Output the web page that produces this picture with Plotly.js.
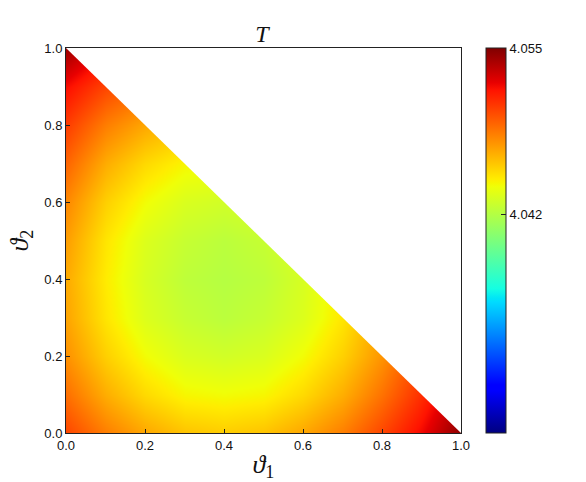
<!DOCTYPE html>
<html>
<head>
<meta charset="utf-8">
<script src="https://cdn.plot.ly/plotly-3.0.1.min.js"></script>
<style>
  body { margin: 0; background: #fff; }
  #plot { width: 586px; height: 482px; }
</style>
</head>
<body>
<div id="plot"></div>
<script>
// grid positions (theta_1 along x, theta_2 along y)
var theta1 = [0.0, 0.1, 0.2, 0.3, 0.4, 0.5, 0.6, 0.7, 0.8, 0.9, 1.0];
var theta2 = [0.0, 0.1, 0.2, 0.3, 0.4, 0.5, 0.6, 0.7, 0.8, 0.9, 1.0];

// T, one row per theta_2 value (only x+y<=1 is shown)
var T_y00 = [4.0501, 4.0483, 4.0470, 4.0461, 4.0458, 4.0461, 4.0470, 4.0483, 4.0501, 4.0521, 4.0547];
var T_y01 = [4.0488, 4.0468, 4.0454, 4.0445, 4.0443, 4.0445, 4.0454, 4.0468, 4.0487, 4.0509, 4.0535];
var T_y02 = [4.0477, 4.0457, 4.0443, 4.0434, 4.0431, 4.0434, 4.0443, 4.0457, 4.0476, 4.0500, 4.0526];
var T_y03 = [4.0471, 4.0450, 4.0435, 4.0427, 4.0423, 4.0427, 4.0435, 4.0450, 4.0470, 4.0493, 4.0520];
var T_y04 = [4.0469, 4.0448, 4.0433, 4.0424, 4.0421, 4.0424, 4.0433, 4.0448, 4.0468, 4.0491, 4.0519];
var T_y05 = [4.0473, 4.0450, 4.0435, 4.0427, 4.0423, 4.0427, 4.0435, 4.0450, 4.0470, 4.0493, 4.0520];
var T_y06 = [4.0480, 4.0457, 4.0443, 4.0434, 4.0431, 4.0434, 4.0443, 4.0457, 4.0476, 4.0500, 4.0526];
var T_y07 = [4.0491, 4.0468, 4.0454, 4.0445, 4.0443, 4.0445, 4.0454, 4.0468, 4.0487, 4.0509, 4.0535];
var T_y08 = [4.0504, 4.0483, 4.0470, 4.0461, 4.0458, 4.0461, 4.0470, 4.0483, 4.0501, 4.0523, 4.0547];
var T_y09 = [4.0519, 4.0501, 4.0489, 4.0481, 4.0478, 4.0481, 4.0489, 4.0501, 4.0518, 4.0538, 4.0560];
var T_y10 = [4.0543, 4.0522, 4.0511, 4.0503, 4.0500, 4.0503, 4.0511, 4.0522, 4.0538, 4.0555, 4.0575];

var T = [T_y00, T_y01, T_y02, T_y03, T_y04, T_y05, T_y06, T_y07, T_y08, T_y09, T_y10];

var cbar_min = 4.025;
var cbar_max = 4.055;
var cbar_ticks = [4.042, 4.055];
var cbar_labels = ['4.042', '4.055'];

// matplotlib "jet"
var jet = [
    [0.0,   'rgb(0,0,128)'],
    [0.11,  'rgb(0,0,255)'],
    [0.125, 'rgb(0,0,255)'],
    [0.34,  'rgb(0,219,255)'],
    [0.35,  'rgb(0,229,247)'],
    [0.375, 'rgb(21,255,226)'],
    [0.64,  'rgb(239,255,8)'],
    [0.65,  'rgb(247,246,0)'],
    [0.66,  'rgb(255,236,0)'],
    [0.89,  'rgb(255,19,0)'],
    [0.91,  'rgb(232,0,0)'],
    [1.0,   'rgb(128,0,0)']
];

var spine = '#222';
var tickfont = {family: 'Liberation Sans, Arial, sans-serif', size: 13, color: '#111'};
var mathfont = {family: 'Liberation Serif, DejaVu Serif, serif', size: 26, color: '#111'};

var data = [{
    type: 'heatmap',
    x: theta1,
    y: theta2,
    z: T,
    zsmooth: 'best',
    colorscale: jet,
    zmin: cbar_min,
    zmax: cbar_max,
    colorbar: {
	thickness: 20, thicknessmode: 'pixels',
	len: 1, lenmode: 'fraction',
	x: 1.063, xanchor: 'left', xpad: 0,
	y: 0.5, yanchor: 'middle', ypad: 0,
	outlinewidth: 1, outlinecolor: spine,
	tickvals: cbar_ticks, ticktext: cbar_labels,
	ticks: 'inside', ticklen: 5, tickcolor: spine,
	tickfont: tickfont
    },
    hoverinfo: 'skip'
}];

var axis = {
    range: [0, 1], dtick: 0.2, tick0: 0, tickformat: '.1f',
    ticks: 'inside', ticklen: 4, tickcolor: spine,
    showline: true, linecolor: spine, linewidth: 1, mirror: 'ticks',
    showgrid: false, zeroline: false,
    tickfont: tickfont
};

var layout = {
    width: 586, height: 482,
    margin: {l: 66, r: 125, t: 48, b: 49},
    paper_bgcolor: 'white', plot_bgcolor: 'white',
    title: {text: '<i>T</i>', font: {family: mathfont.family, size: 24, color: '#111'},
	    x: 0.447, xanchor: 'center', y: 0.93, yanchor: 'middle'},
    xaxis: Object.assign({}, axis, {title: {text: '<i>ϑ</i><sub>1</sub>', font: mathfont, standoff: 10}}),
    yaxis: Object.assign({}, axis, {title: {text: '<i>ϑ</i><sub>2</sub>', font: mathfont, standoff: 8}}),
    // white cover for the part of the square outside the theta_1 + theta_2 <= 1 domain
    shapes: [{type: 'path', xref: 'x', yref: 'y', path: 'M 0 1 L 1 1 L 1 0 Z',
	      fillcolor: 'white', line: {width: 0}, layer: 'above'}],
    showlegend: false
};

Plotly.newPlot('plot', data, layout, {displayModeBar: false, staticPlot: true});
</script>
</body>
</html>
